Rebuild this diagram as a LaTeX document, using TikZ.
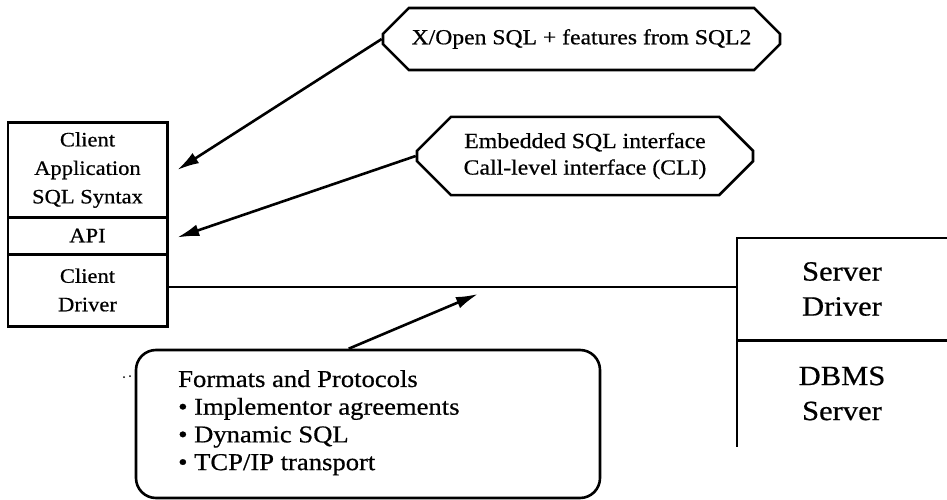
\documentclass[tikz,border=0pt]{standalone}
\usepackage{fontspec}
\setmainfont[FakeStretch=1.1,FakeBold=0.6]{Liberation Serif}
\usetikzlibrary{arrows.meta,shapes.misc}
\begin{document}
\begin{tikzpicture}[x=1pt,y=-1pt,
  sect/.style={minimum width=159pt, inner sep=0pt, align=center, font=\fontsize{20.5}{28.5}\selectfont},
  srv/.style={minimum width=210pt, inner sep=0pt, align=center, font=\fontsize{27.8}{35}\selectfont},
  edge/.style={line width=2.6pt},
  arr/.style={line width=2.6pt, -{Latex[length=22pt,width=12pt]}},
  callout/.style={draw, line width=2.6pt, chamfered rectangle, chamfered rectangle xsep=18pt, chamfered rectangle ysep=16pt, inner sep=0pt, align=center}
]
\useasboundingbox (0,0) rectangle (947,500);

% client stack
\node[sect, minimum height=94pt] (s1) at (87.5,170) {Client\\Application\\SQL Syntax};
\node[sect, minimum height=37pt] (s2) at (87.5,235.5) {API};
\node[sect, minimum height=72pt] (s3) at (87.5,290) {Client\\Driver};
\draw[edge] (s1.north west) rectangle (s3.south east);
\draw[edge] (s1.south west) -- (s1.south east);
\draw[edge] (s2.south west) -- (s2.south east);

% server stack
\node[srv, minimum height=102pt] (v1) at (842,289) {Server\\Driver};
\node[srv, minimum height=107pt] (v2) at (842,393.5) {DBMS\\Server};
\draw[edge] (v1.north east) -- (v1.north west) -- (v2.south west);
\draw[edge] (v1.south west) -- (v1.south east);

% link
\draw[edge] ([yshift=3pt]s3.east) -- ([yshift=3pt]s3.east -| v1.west);

% callouts
\node[callout, minimum width=397pt, minimum height=62pt, font=\fontsize{21.5}{26}\selectfont] (c1) at (581.5,39) {X/Open SQL + features from SQL2};
\node[callout, minimum width=336pt, minimum height=70pt, font=\fontsize{21.6}{26.5}\selectfont] (c2) at (585,156) {Embedded SQL interface\\Call-level interface (CLI)};
\coordinate (t1) at ([xshift=10pt]s1.east);
\coordinate (t2) at ([xshift=10pt,yshift=-2pt]s2.east);
\draw[arr] (c1.west) -- (t1);
\draw[arr] (c2.west) -- (t2);

% formats box
\node[draw, line width=2.6pt, rounded corners=20pt, minimum width=464pt, minimum height=148pt, inner sep=0pt] (b) at (368,424) {};
\node[anchor=north west, inner sep=0pt, align=left, font=\fontsize{24.2}{27.7}\selectfont] (bt) at (178,370) {Formats and Protocols\\• Implementor agreements\\• Dynamic SQL\\• TCP/IP transport};
\coordinate (t3) at (478,294);
\draw[arr] ([xshift=214pt]b.north west) -- (t3);

\fill (124,377) circle (1pt);
\fill (130,376) circle (1pt);
\end{tikzpicture}
\end{document}
